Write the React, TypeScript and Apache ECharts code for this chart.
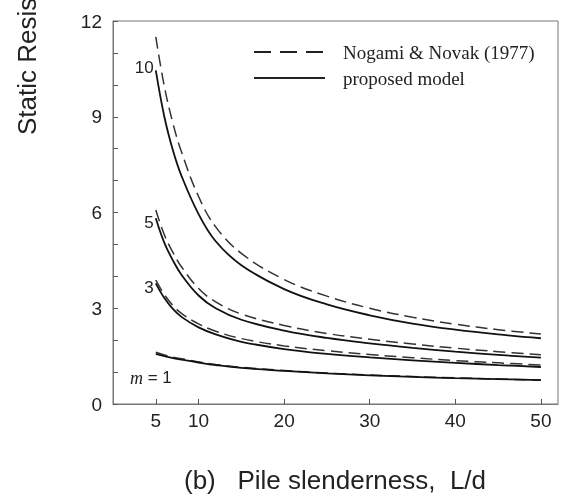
import React, { useEffect, useRef } from "react";
import * as echarts from "echarts";

const LD = [5, 6, 7, 8, 10, 12, 15, 20, 25, 30, 35, 40, 45, 50];
const m10Proposed = [10.45, 9.0, 7.95, 7.15, 5.95, 5.1, 4.35, 3.6, 3.12, 2.78, 2.52, 2.33, 2.18, 2.06];
const m10Nogami = [11.5, 9.95, 8.8, 7.9, 6.5, 5.55, 4.72, 3.9, 3.38, 3.0, 2.72, 2.5, 2.33, 2.19];
const m5Proposed = [5.82, 5.05, 4.5, 4.05, 3.4, 3.0, 2.64, 2.3, 2.07, 1.9, 1.76, 1.64, 1.54, 1.45];
const m5Nogami = [6.08, 5.3, 4.75, 4.3, 3.62, 3.2, 2.82, 2.46, 2.21, 2.03, 1.88, 1.75, 1.64, 1.54];
const m3Proposed = [3.78, 3.32, 2.98, 2.73, 2.4, 2.18, 1.95, 1.72, 1.57, 1.46, 1.37, 1.29, 1.22, 1.16];
const m3Nogami = [3.88, 3.43, 3.09, 2.84, 2.51, 2.28, 2.05, 1.82, 1.67, 1.55, 1.45, 1.36, 1.29, 1.22];
const m1Proposed = [1.57, 1.5, 1.44, 1.39, 1.3, 1.22, 1.13, 1.04, 0.96, 0.9, 0.85, 0.81, 0.78, 0.75];
const m1Nogami = [1.62, 1.54, 1.47, 1.42, 1.32, 1.24, 1.15, 1.05, 0.97, 0.91, 0.86, 0.82, 0.78, 0.75];

const xTickValues = [5, 10, 20, 30, 40, 50];
const curveLabels = ["10", "5", "3", "{i|m} = 1"];
const legendNames = ["Nogami & Novak (1977)", "proposed model"];

const SANS = "Liberation Sans, Arial, sans-serif";
const SERIF = "Liberation Serif, Times New Roman, serif";

function buildData(vals: number[], label?: any) {
  return LD.map((x, i) => {
    if (i === 0 && label) return { value: [x, vals[i]], label };
    return [x, vals[i]];
  });
}

export default function App() {
  const ref = useRef<HTMLDivElement>(null);
  useEffect(() => {
    if (!ref.current) return;
    const chart = echarts.init(ref.current, undefined, { renderer: "svg" });
    const solidStyle = { color: "#111", width: 1.8, type: "solid" as const };
    const dashStyle = { color: "#333", width: 1.5, type: [12, 6] as any };
    const lbl = (text: string, offset: number[]) => ({
      show: true,
      position: "left",
      distance: 2,
      offset,
      formatter: text,
      color: "#222",
      fontFamily: SANS,
      fontSize: 17,
      rich: {
        i: { fontFamily: SERIF, fontStyle: "italic", fontSize: 18, color: "#222" },
      },
    });
    const mk = (name: string, vals: number[], dashed: boolean, label?: any) => ({
      type: "line",
      name,
      data: buildData(vals, label),
      smooth: 0.4,
      showSymbol: true,
      symbol: "circle",
      symbolSize: 0,
      itemStyle: { color: "transparent" },
      lineStyle: dashed ? dashStyle : solidStyle,
      label: { show: false },
      silent: true,
    });
    chart.setOption({
      animation: false,
      grid: {
        left: 113,
        right: 3,
        top: 21,
        bottom: 96,
        show: true,
        borderColor: "#777",
        borderWidth: 1,
        backgroundColor: "transparent",
      },
      xAxis: {
        type: "value",
        min: 0,
        max: 52,
        axisLine: { show: true, lineStyle: { color: "#777", width: 1 } },
        axisTick: {
          show: true,
          inside: true,
          length: 5,
          customValues: xTickValues,
          lineStyle: { color: "#555" },
        },
        axisLabel: {
          customValues: xTickValues,
          color: "#222",
          fontFamily: SANS,
          fontSize: 19,
          margin: 7,
        },
        splitLine: { show: false },
      },
      yAxis: {
        type: "value",
        min: 0,
        max: 12,
        interval: 3,
        axisLine: { show: true, lineStyle: { color: "#777", width: 1 } },
        axisTick: { show: true, inside: true, length: 5, lineStyle: { color: "#555" } },
        minorTick: { show: true, splitNumber: 3, length: 5, lineStyle: { color: "#555" } },
        axisLabel: {
          color: "#222",
          fontFamily: SANS,
          fontSize: 19,
          margin: 11,
        },
        splitLine: { show: false },
        minorSplitLine: { show: false },
      },
      series: [
        mk("m10 Nogami", m10Nogami, true),
        mk("m10 proposed", m10Proposed, false, lbl(curveLabels[0], [0, -3])),
        mk("m5 Nogami", m5Nogami, true),
        mk("m5 proposed", m5Proposed, false, lbl(curveLabels[1], [0, 4])),
        mk("m3 Nogami", m3Nogami, true),
        mk("m3 proposed", m3Proposed, false, lbl(curveLabels[2], [0, 4])),
        mk("m1 Nogami", m1Nogami, true),
        mk("m1 proposed", m1Proposed, false, lbl(curveLabels[3], [18, 24])),
      ],
      graphic: [
        {
          type: "line",
          shape: { x1: 254, y1: 52, x2: 325, y2: 52 },
          style: { stroke: "#222", lineWidth: 2, lineDash: [17, 9] },
        },
        {
          type: "line",
          shape: { x1: 254, y1: 78, x2: 325, y2: 78 },
          style: { stroke: "#222", lineWidth: 2 },
        },
        {
          type: "text",
          x: 343,
          y: 52,
          style: {
            text: legendNames[0],
            fill: "#222",
            font: `19px ${SERIF}`,
            textAlign: "left",
            textVerticalAlign: "middle",
          },
        },
        {
          type: "text",
          x: 343,
          y: 78,
          style: {
            text: legendNames[1],
            fill: "#222",
            font: `19px ${SERIF}`,
            textAlign: "left",
            textVerticalAlign: "middle",
          },
        },
        {
          type: "text",
          x: 27,
          y: 135,
          rotation: Math.PI / 2,
          style: {
            text: "Static Resistance",
            fill: "#222",
            font: `26px ${SANS}`,
            textAlign: "left",
            textVerticalAlign: "middle",
          },
        },
        {
          type: "text",
          x: 335,
          y: 480,
          style: {
            text: "(b)   Pile slenderness,  L/d",
            fill: "#222",
            font: `26px ${SANS}`,
            textAlign: "center",
            textVerticalAlign: "middle",
          },
        },
      ],
    });
    return () => chart.dispose();
  }, []);
  return (
    <div
      ref={ref}
      style={{ position: "fixed", left: 0, top: 0, width: 561, height: 500 }}
    />
  );
}
